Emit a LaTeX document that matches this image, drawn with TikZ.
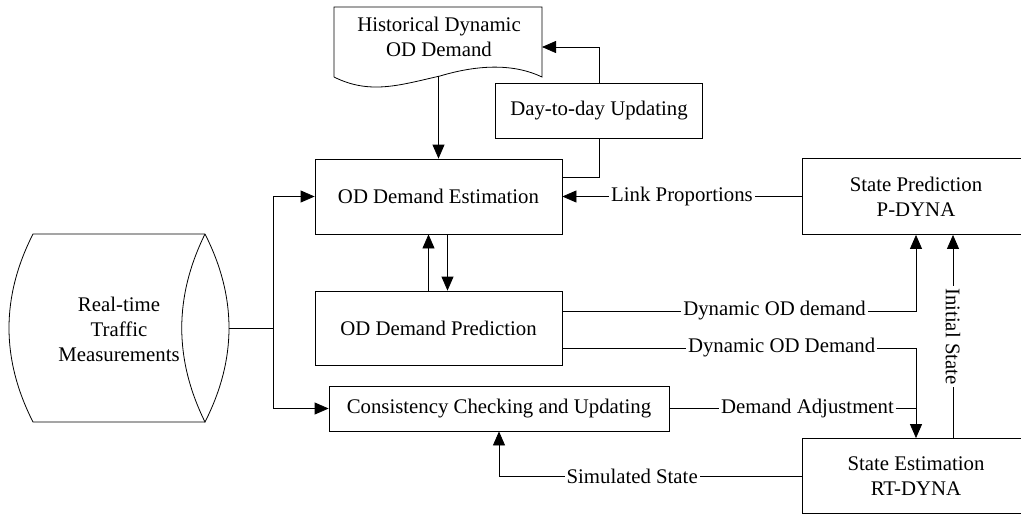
\documentclass[tikz,border=0pt]{standalone}
\usepackage{fontspec}
\setmainfont{Liberation Serif}
\usetikzlibrary{arrows.meta,positioning,calc}

\begin{document}
\begin{tikzpicture}[x=1pt,y=-1pt,>={Triangle[length=14pt,width=12pt]},
  line width=0.8pt,
  every node/.style={font=\fontsize{20.8}{25}\selectfont},
  box/.style={draw,align=center,inner sep=0pt},
  lbl/.style={fill=white,inner sep=2pt}]
  \useasboundingbox (0,0) rectangle (1021,515);

  % Real-time measurements (storage shape)
  \draw (205,234) -- (33,234) .. controls (1,297) and (1,359) .. (33,422) -- (205,422);
  \draw (205,234) .. controls (174,297) and (174,359) .. (205,422)
        .. controls (237,359) and (237,297) .. (205,234);
  \node[align=center] (rtm) at (119,329) {Real-time\\Traffic\\Measurements};
  \coordinate (rtmR) at (229,328);
  \coordinate (split) at (273,328);

  % Historical demand (document shape)
  \draw (334,77) -- (334,7) -- (542,7) -- (542,77)
        .. controls (515,64) and (480,64) .. (440,76)
        .. controls (400,85) and (370,95) .. (334,77);
  \node[align=center] (hist) at (439,37) {Historical Dynamic\\OD Demand};
  \coordinate (histB) at (438.5,76);
  \coordinate (histR) at (542,47);

  % Boxes
  \node[box,minimum width=247pt,minimum height=75pt] (est) at (438.5,196.5) {OD Demand Estimation};
  \node[box,minimum width=247pt,minimum height=74pt] (pred) at (438.5,328) {OD Demand Prediction};
  \node[box,minimum width=340pt,minimum height=45pt] (cons) at (499,408.5) {Consistency Checking and Updating};
  \node[box,line width=1.6pt,minimum width=207pt,minimum height=55pt] (day) at (599,111) {Day-to-day Updating};
  \node[box,minimum width=228pt,minimum height=76pt] (sp) at (916,196.5) {State Prediction\\P-DYNA};
  \node[box,minimum width=228pt,minimum height=75pt] (se) at (916,476) {State Estimation\\RT-DYNA};

  % Measurements feed
  \draw (rtmR) -- (split);
  \draw[->] (split) |- (est.west);
  \draw[->] (split) |- (cons.west);

  % Historical demand loop
  \draw[->] (histB) -- (est.north);
  \draw ([yshift=19.5pt]est.east) -| (day.south);
  \draw[->] (day.north) |- (histR);

  % Estimation <-> prediction
  \draw[->] ([xshift=-10pt]pred.north) -- ([xshift=-10pt]est.south);
  \draw[->] ([xshift=9pt]est.south) -- ([xshift=9pt]pred.north);

  % DYNA links
  \draw[->] (sp.west) -- node[lbl] {Link Proportions} (est.east);
  \draw[->] ([yshift=17pt]pred.east) -| node[lbl,pos=0.3] {Dynamic OD demand} (sp.south);
  \draw[->] ([yshift=-20pt]pred.east) -| node[lbl,pos=0.31] {Dynamic OD Demand} (se.north);
  \draw (cons.east) -- node[lbl,pos=0.56] {Demand Adjustment} (cons.east -| se.north);
  \draw[->] ([xshift=37pt]se.north) -- node[lbl,rotate=-90] {Initial State} ([xshift=37pt]sp.south);
  \draw[->] (se.west) -| node[lbl,pos=0.28] {Simulated State} (cons.south);
\end{tikzpicture}
\end{document}
